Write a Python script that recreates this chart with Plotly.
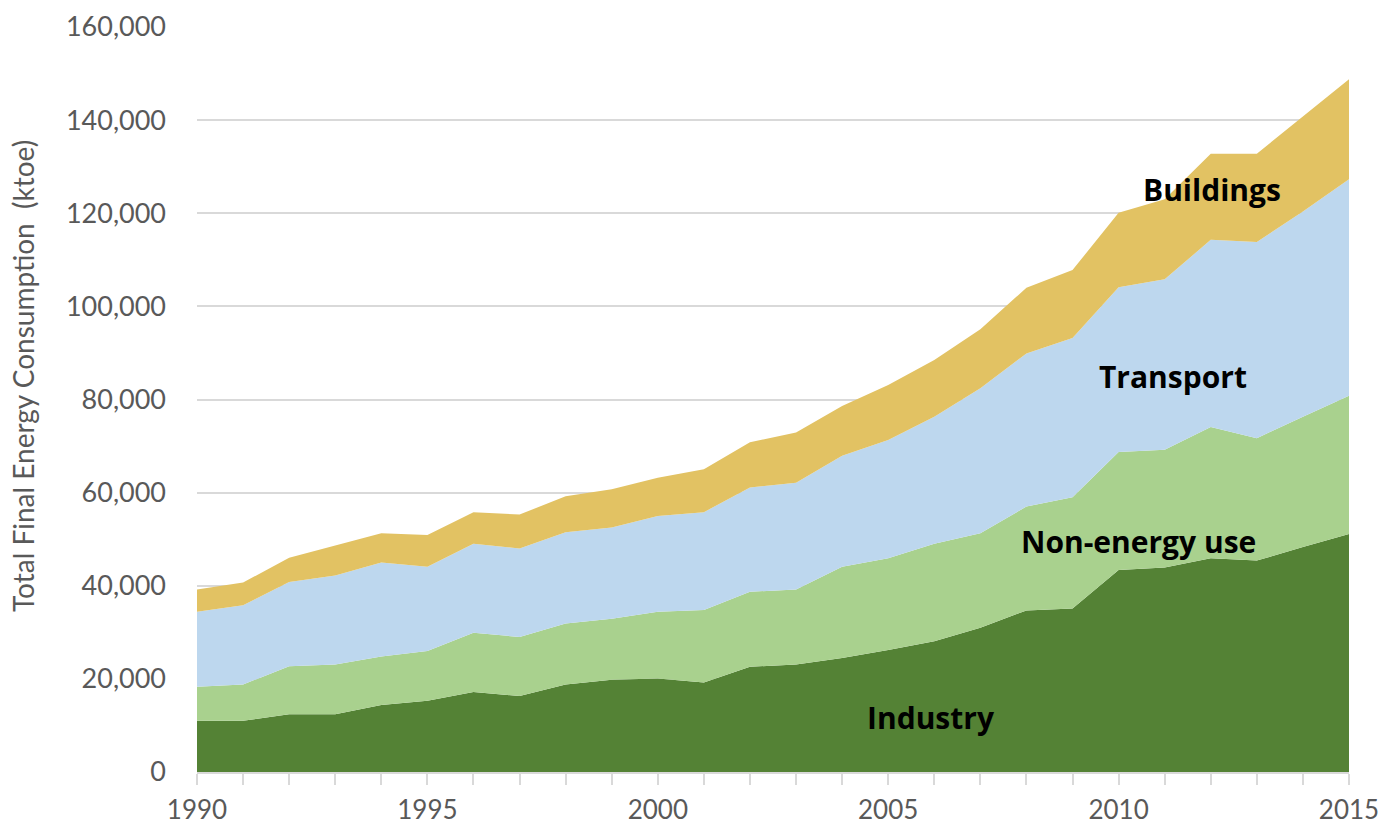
import plotly.graph_objects as go

years = list(range(1990, 2016))

industry = [11.0, 11.0, 12.4, 12.4, 14.4, 15.3, 17.2, 16.3, 18.8, 19.8,
            20.1, 19.2, 22.6, 23.1, 24.5, 26.2, 28.1, 31.0, 34.7, 35.1,
            43.4, 43.9, 45.9, 45.4, 48.3, 51.1]
non_energy = [7.3, 7.8, 10.3, 10.7, 10.4, 10.7, 12.7, 12.7, 13.1, 13.1,
              14.3, 15.6, 16.1, 16.1, 19.6, 19.7, 20.9, 20.3, 22.3, 23.9,
              25.3, 25.3, 28.2, 26.3, 28.0, 29.7]
transport = [16.1, 17.0, 18.1, 19.1, 20.2, 18.1, 19.1, 19.0, 19.6, 19.6,
             20.6, 21.0, 22.4, 22.9, 23.8, 25.4, 27.3, 31.1, 32.9, 34.2,
             35.4, 36.6, 40.2, 42.1, 44.1, 46.5]
buildings = [4.8, 4.9, 5.2, 6.4, 6.3, 6.8, 6.8, 7.3, 7.7, 8.2,
             8.2, 9.2, 9.7, 10.8, 10.7, 11.8, 12.2, 12.7, 14.1, 14.6,
             16.0, 17.2, 18.5, 19.0, 20.3, 21.5]

series_names = ["Industry", "Non-energy use", "Transport", "Buildings"]
series_values = [industry, non_energy, transport, buildings]
colors = ["#548235", "#A9D18E", "#BDD7EE", "#E2C263"]

y_ticks = list(range(0, 160001, 20000))
x_ticks = [1990, 1995, 2000, 2005, 2010, 2015]
y_title = "Total Final Energy Consumption  (ktoe)"

fig = go.Figure()
for name, vals, col in zip(series_names, series_values, colors):
    fig.add_trace(go.Scatter(
        x=years, y=[v * 1000 for v in vals], name=name,
        mode="lines", line=dict(width=0, color=col),
        stackgroup="one", fillcolor=col, showlegend=False,
        hoverinfo="skip",
    ))

# labels inside the areas
label_pos = {
    "Buildings": (2012.03, 125200),
    "Transport": (2011.18, 85000),
    "Non-energy use": (2010.44, 49600),
    "Industry": (2005.93, 11800),
}
for name, (lx, ly) in label_pos.items():
    fig.add_annotation(x=lx, y=ly, text="<b>%s</b>" % name, showarrow=False,
                       font=dict(family="Open Sans", size=30, color="#000000"),
                       xanchor="center", yanchor="middle")

# y-axis title
fig.add_annotation(xref="paper", yref="paper", x=0, y=0.5315, xshift=-174,
                   text=y_title, textangle=-90, showarrow=False,
                   xanchor="center", yanchor="middle",
                   font=dict(family="Lato", size=28, color="#595959"))

grid = "#d9d9d9"
fig.update_layout(
    width=1379, height=824,
    margin=dict(l=197, r=30, t=27, b=52),
    paper_bgcolor="white", plot_bgcolor="white",
    font=dict(family="Lato", color="#595959"),
    xaxis=dict(
        range=[1990, 2015], tickvals=x_ticks, ticktext=[str(t) for t in x_ticks],
        showgrid=False, showline=True, linecolor=grid, linewidth=2,
        ticks="outside", ticklen=11, tickwidth=2, tickcolor=grid,
        minor=dict(dtick=1, tick0=1990, ticks="outside", ticklen=11, tickwidth=2, tickcolor=grid),
        tickfont=dict(family="Lato", size=26, color="#595959"),
        ticklabelstandoff=3, ticklabeloverflow="allow",
        zeroline=False, automargin=False,
    ),
    yaxis=dict(
        range=[0, 160000], tickvals=y_ticks, tickformat=",d",
        showgrid=True, gridcolor=grid, gridwidth=2, zeroline=False,
        showline=False, ticks="",
        tickfont=dict(family="Lato", size=27, color="#595959"),
        ticklabelstandoff=30, ticklabeloverflow="allow", automargin=False,
    ),
)

fig.write_html("out.html",
               config={"displayModeBar": False},
               post_script="document.body.style.margin='0';document.body.style.overflow='hidden';")
